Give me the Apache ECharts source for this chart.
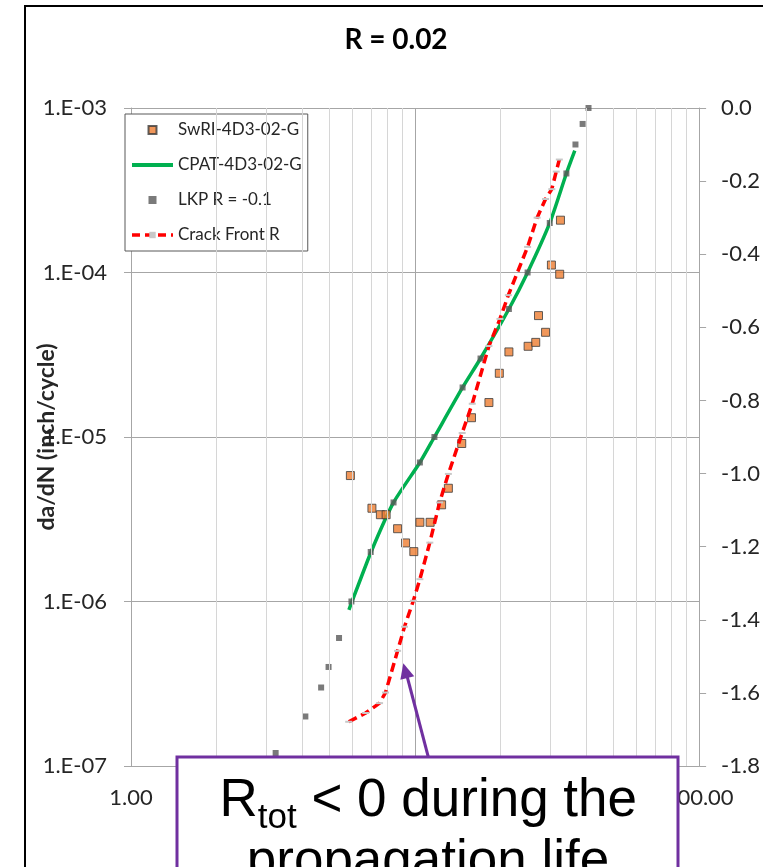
<!DOCTYPE html>
<html>
<head>
<meta charset="utf-8">
<script src="https://cdn.jsdelivr.net/npm/echarts@6/dist/echarts.min.js"></script>
<style>
  html, body { margin: 0; padding: 0; background: #ffffff; }
  #chart { width: 763px; height: 867px; }
</style>
</head>
<body>
<div id="chart"></div>
<script>
// Crack growth rate vs. stress intensity, R = 0.02

// SwRI-4D3-02-G test data (da/dN, inch/cycle)
const swriX = [5.92, 7.05, 7.55, 7.91, 8.68, 9.26, 9.90, 10.4, 11.3, 12.4, 13.1, 14.6,
               15.8, 18.2, 19.8, 21.4, 25.0, 26.6, 28.8, 27.2, 30.2, 32.5, 32.3];
const swriY = [5.83e-6, 3.69e-6, 3.37e-6, 3.37e-6, 2.77e-6, 2.27e-6, 2.01e-6, 3.03e-6,
               3.03e-6, 3.87e-6, 4.88e-6, 9.13e-6, 1.31e-5, 1.62e-5, 2.44e-5, 3.29e-5,
               3.56e-5, 3.76e-5, 4.33e-5, 5.47e-5, 1.11e-4, 2.08e-4, 9.76e-5];

// CPAT-4D3-02-G prediction
const cpatX = [5.85, 6.0, 7.0, 8.4, 10.4, 11.7, 14.7, 17.0, 21.4, 24.9, 29.8, 34.1, 36.5];
const cpatY = [8.9e-7, 1.0e-6, 2.0e-6, 4.0e-6, 7.0e-6, 1.0e-5, 2.0e-5, 3.0e-5, 6.0e-5,
               1.0e-4, 2.0e-4, 4.0e-4, 5.5e-4];

// LKP curve, R = -0.1
const lkpX = [3.23, 4.11, 4.67, 4.96, 5.40, 5.97, 6.98, 8.40, 10.4, 11.7, 14.7, 17.0,
              21.4, 24.9, 29.8, 34.1, 36.7, 38.9, 40.8];
const lkpY = [1.2e-7, 2e-7, 3e-7, 4e-7, 6e-7, 1e-6, 2e-6, 4e-6, 7e-6, 1e-5, 2e-5, 3e-5,
              6e-5, 1e-4, 2e-4, 4e-4, 6e-4, 8e-4, 1e-3];

// Crack front stress ratio (secondary axis)
const frontX = [5.84, 6.70, 7.50, 7.87, 8.68, 9.18, 9.86, 10.4, 11.27, 12.2, 13.1, 14.65,
                15.9, 18.2, 19.9, 21.3, 24.9, 26.9, 28.8, 30.3, 31.4, 32.2];
const frontR = [-1.679, -1.655, -1.628, -1.599, -1.485, -1.419, -1.348, -1.289, -1.189,
                -1.079, -1.001, -0.889, -0.809, -0.651, -0.577, -0.512, -0.380, -0.300,
                -0.249, -0.222, -0.174, -0.141];

// Tick labels
const xTickLabels = { 1: '1.00', 10: '10.00', 100: '100.00' };
const yTickLabels = { '-7': '1.E-07', '-6': '1.E-06', '-5': '1.E-05', '-4': '1.E-04', '-3': '1.E-03' };

const seriesNames = ['SwRI-4D3-02-G', 'CPAT-4D3-02-G', 'LKP R = -0.1', 'Crack Front R'];

// Minor log grid positions (2..9 within each decade)
const minorX = [];
[1, 10].forEach(d => { for (let k = 2; k <= 9; k++) minorX.push(k * d); });
const minorY = [];
[1e-7, 1e-6, 1e-5, 1e-4].forEach(d => { for (let k = 2; k <= 9; k++) minorY.push(+(k * d).toPrecision(3)); });

const zip = (a, b) => a.map((v, i) => [v, b[i]]);

const FONT = 'Lato';
const LABEL_COLOR = '#262626';
const PURPLE = '#7030A0';
const SQUARE = 'path://M0,0L10,0L10,10L0,10Z';

const chart = echarts.init(document.getElementById('chart'), null, { renderer: 'canvas' });

chart.setOption({
  animation: false,
  backgroundColor: '#ffffff',
  grid: { left: 131, right: 62, top: 108, bottom: 101, containLabel: false },
  legend: {
    data: [
      { name: seriesNames[0], icon: SQUARE },
      { name: seriesNames[1], itemStyle: { color: 'rgba(0,0,0,0)', borderWidth: 0 },
        lineStyle: { color: '#00B050', width: 4 } },
      { name: seriesNames[2], icon: SQUARE },
      { name: seriesNames[3], lineStyle: { color: '#FF0000', width: 3.5, type: [8, 5] } }
    ],
    orient: 'vertical',
    left: 125,
    top: 114,
    padding: [6, 6, 6, 5],
    itemGap: 15,
    itemWidth: 41,
    itemHeight: 8,
    symbolKeepAspect: true,
    backgroundColor: '#ffffff',
    borderColor: '#595959',
    borderWidth: 1,
    borderRadius: 0,
    selectedMode: false,
    textStyle: { fontFamily: FONT, fontSize: 17, color: LABEL_COLOR, lineHeight: 20 }
  },
  xAxis: {
    type: 'log',
    logBase: 10,
    min: 1,
    max: 100,
    axisLine: { show: true, lineStyle: { color: '#a6a6a6', width: 1 } },
    axisTick: { show: true, inside: false, length: 7, lineStyle: { color: '#a6a6a6' } },
    axisLabel: {
      margin: 21,
      fontFamily: FONT, fontSize: 22, color: LABEL_COLOR,
      formatter: v => xTickLabels[Math.round(v)] || ''
    },
    splitLine: { show: true, lineStyle: { color: '#a6a6a6', width: 1 } }
  },
  yAxis: [
    {
      type: 'log',
      logBase: 10,
      min: 1e-7,
      max: 1e-3,
      position: 'left',
      name: 'da/dN (inch/cycle)',
      nameLocation: 'middle',
      nameGap: 73,
      nameMoveOverlap: false,
      nameTextStyle: { fontFamily: FONT, fontSize: 23, fontWeight: 'bold', color: LABEL_COLOR },
      axisLine: { show: true, lineStyle: { color: '#a6a6a6', width: 1 } },
      axisTick: { show: true, inside: false, length: 7, lineStyle: { color: '#a6a6a6' } },
      axisLabel: {
        margin: 24,
        fontFamily: FONT, fontSize: 22, color: LABEL_COLOR,
        formatter: v => yTickLabels[String(Math.round(Math.log10(v)))] || ''
      },
      splitLine: { show: true, lineStyle: { color: '#a6a6a6', width: 1 } }
    },
    {
      type: 'value',
      min: -1.8,
      max: 0,
      interval: 0.2,
      position: 'right',
      axisLine: { show: true, lineStyle: { color: '#a6a6a6', width: 1 } },
      axisTick: { show: true, inside: false, length: 7, lineStyle: { color: '#a6a6a6' } },
      axisLabel: {
        margin: 22,
        fontFamily: FONT, fontSize: 22, color: LABEL_COLOR,
        formatter: v => v.toFixed(1)
      },
      splitLine: { show: false }
    }
  ],
  series: [
    {
      name: 'minor-grid',
      type: 'line',
      data: [],
      z: 1,
      silent: true,
      markLine: {
        silent: true,
        symbol: ['none', 'none'],
        label: { show: false },
        emphasis: { disabled: true },
        lineStyle: { color: '#d6d6d6', type: 'solid', width: 1 },
        data: minorX.map(v => ({ xAxis: v })).concat(minorY.map(v => ({ yAxis: v })))
      }
    },
    {
      name: seriesNames[0],
      type: 'scatter',
      data: zip(swriX, swriY),
      symbol: 'rect',
      symbolSize: 8,
      itemStyle: { color: '#ED7D31', borderColor: '#3b3b3b', borderWidth: 1 },
      z: 3
    },
    {
      name: seriesNames[1],
      type: 'line',
      data: zip(cpatX, cpatY),
      symbol: 'none',
      showSymbol: false,
      smooth: 0.2,
      lineStyle: { color: '#00B050', width: 3.5 },
      itemStyle: { color: '#00B050' },
      z: 3
    },
    {
      name: seriesNames[2],
      type: 'scatter',
      data: zip(lkpX, lkpY),
      symbol: 'rect',
      symbolSize: 6,
      itemStyle: { color: '#595959' },
      z: 4
    },
    {
      name: seriesNames[3],
      type: 'line',
      yAxisIndex: 1,
      data: zip(frontX, frontR),
      symbol: 'rect',
      symbolSize: [7, 2],
      showSymbol: true,
      itemStyle: { color: '#c8c8c8' },
      lineStyle: { color: '#FF0000', width: 3.5, type: [9, 5] },
      z: 5
    }
  ],
  graphic: [
    {
      type: 'rect', silent: true, z: 100,
      shape: { x: 25, y: 6, width: 760, height: 880 },
      style: { fill: 'none', stroke: '#000000', lineWidth: 2 }
    },
    {
      type: 'text', silent: true, z: 100, x: 396, y: 40,
      style: {
        text: 'R = 0.02', font: 'bold 28px Lato', fill: '#000000',
        textAlign: 'center', textVerticalAlign: 'middle', align: 'center', verticalAlign: 'middle'
      }
    },
    {
      type: 'line', silent: true, z: 101,
      shape: { x1: 428.3, y1: 757, x2: 406.5, y2: 674 },
      style: { stroke: PURPLE, lineWidth: 3 }
    },
    {
      type: 'polygon', silent: true, z: 101,
      shape: { points: [[403.3, 663.3], [414.2, 676.2], [400.4, 679.8]] },
      style: { fill: PURPLE }
    },
    {
      type: 'rect', silent: true, z: 102,
      shape: { x: 177, y: 757, width: 501, height: 200 },
      style: { fill: '#ffffff', stroke: PURPLE, lineWidth: 3 }
    },
    {
      type: 'text', silent: true, z: 103, x: 219.5, y: 801.6,
      style: { text: 'R', font: '53px "Liberation Sans"', fill: '#000000',
               textAlign: 'left', textVerticalAlign: 'middle', align: 'left', verticalAlign: 'middle' }
    },
    {
      type: 'text', silent: true, z: 103, x: 257.8, y: 817.9,
      style: { text: 'tot', font: '35px "Liberation Sans"', fill: '#000000',
               textAlign: 'left', textVerticalAlign: 'middle', align: 'left', verticalAlign: 'middle' }
    },
    {
      type: 'text', silent: true, z: 103, x: 296.7, y: 801.6,
      style: { text: ' < 0 during the', font: '53px "Liberation Sans"', fill: '#000000',
               textAlign: 'left', textVerticalAlign: 'middle', align: 'left', verticalAlign: 'middle' }
    },
    {
      type: 'text', silent: true, z: 103, x: 428, y: 862.6,
      style: { text: 'propagation life', font: '53px "Liberation Sans"', fill: '#000000',
               textAlign: 'center', textVerticalAlign: 'middle', align: 'center', verticalAlign: 'middle' }
    }
  ]
});
</script>
</body>
</html>
